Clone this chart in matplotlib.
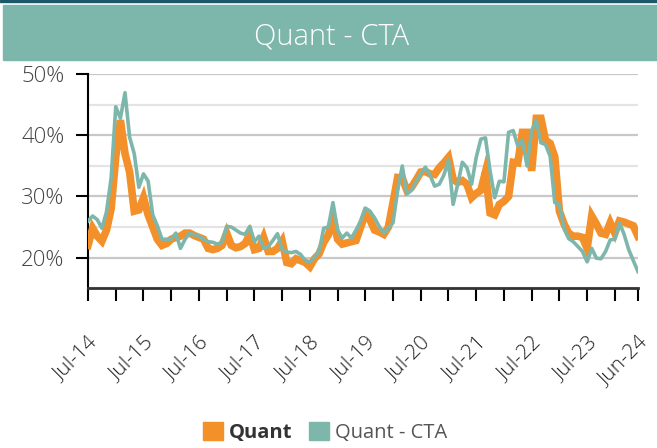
import matplotlib.pyplot as plt
from matplotlib.patches import Rectangle, Patch
import pandas as pd

# monthly volatility series, Jul-14 .. Jun-24
months = pd.date_range('2014-07-01', '2024-06-01', freq='MS')

quant = [22.0, 24.8, 23.5, 22.7, 24.5, 28.0, 36.5, 42.5, 37.0, 34.0,
         27.6, 27.8, 29.8, 27.0, 25.0, 23.0, 22.0, 22.3, 23.0, 23.3,
         23.5, 24.0, 24.0, 23.6, 23.3, 23.0, 21.5, 21.3, 21.5, 22.0,
         24.0, 22.0, 21.6, 21.8, 22.3, 23.8, 21.3, 21.5, 23.3, 21.0,
         21.0, 21.5, 22.7, 19.2, 19.0, 19.8, 19.5, 19.2, 18.5, 19.8,
         20.6, 22.5, 23.7, 26.5, 23.0, 22.2, 22.4, 22.6, 22.8, 25.0,
         27.1, 26.2, 24.5, 24.2, 23.8, 25.0, 29.0, 33.1, 33.0, 31.0,
         31.5, 32.7, 34.0, 34.1, 33.7, 33.6, 34.7, 35.5, 36.4, 32.8,
         32.3, 32.6, 32.0, 29.8, 30.5, 31.0, 34.0, 27.3, 27.0, 28.7,
         29.2, 30.0, 35.6, 35.5, 40.5, 40.5, 34.2, 42.8, 42.8, 39.2,
         38.7, 36.5, 27.6, 25.5, 24.0, 23.5, 23.5, 23.3, 21.5, 26.8,
         25.5, 24.0, 23.8, 25.7, 24.0, 26.0, 25.8, 25.5, 25.2, 23.5]

cta = [26.0, 26.8, 26.2, 24.8, 27.5, 33.0, 44.7, 42.8, 47.0, 39.7,
       37.0, 31.5, 33.7, 32.5, 27.0, 25.2, 23.0, 23.0, 23.0, 24.0,
       21.5, 23.0, 24.0, 23.7, 23.5, 23.0, 22.6, 22.5, 22.2, 22.5,
       25.1, 25.0, 24.5, 24.0, 23.8, 25.1, 22.6, 23.5, 21.5, 21.8,
       22.8, 23.9, 21.3, 20.9, 20.8, 21.0, 20.5, 19.5, 19.3, 20.0,
       21.0, 24.8, 25.0, 29.0, 24.5, 23.2, 24.0, 23.2, 24.5, 26.0,
       28.1, 27.6, 26.5, 25.1, 24.0, 24.8, 25.7, 31.0, 35.0, 30.4,
       31.0, 32.5, 33.7, 34.8, 33.5, 31.7, 32.0, 33.5, 36.0, 28.7,
       32.0, 35.6, 34.7, 32.0, 36.4, 39.4, 39.6, 34.2, 29.8, 32.5,
       32.4, 40.5, 40.8, 38.3, 39.2, 35.0, 40.8, 42.5, 38.8, 38.5,
       36.6, 29.0, 28.7, 24.8, 23.1, 22.6, 21.8, 21.0, 19.3, 21.5,
       19.9, 19.8, 21.0, 22.9, 23.0, 25.7, 23.8, 21.3, 19.5, 17.7]

tick_labels = ['Jul-14', 'Jul-15', 'Jul-16', 'Jul-17', 'Jul-18', 'Jul-19',
               'Jul-20', 'Jul-21', 'Jul-22', 'Jul-23', 'Jun-24']

orange = '#f3902a'
teal = '#7db6aa'

plt.rcParams['font.family'] = ['Open Sans', 'DejaVu Sans']

fig = plt.figure(figsize=(6.57, 4.48), dpi=100)
ax = fig.add_axes([0.134, 0.357, 0.837, 0.477])

# header band
fig.patches.append(Rectangle((0.0, 0.995), 1, 0.005, transform=fig.transFigure,
                             color='#1d5868', zorder=0))
fig.patches.append(Rectangle((0.005, 0.866), 0.995, 0.123, transform=fig.transFigure,
                             color=teal, zorder=0))
fig.text(0.505, 0.918, 'Quant - CTA', color='white', fontsize=21,
         fontweight='light', ha='center', va='center')

x = range(len(months))
ax.plot(x, quant, color=orange, lw=5.5, solid_joinstyle='miter', zorder=3)
ax.plot(x, cta, color=teal, lw=2.6, zorder=4)

ax.set_xlim(0, len(months) - 1)
ax.set_ylim(15, 50)

# gridlines: dark every 10%, light in between
for v in [20, 30, 40, 50]:
    ax.axhline(v, color='#c8c8c8', lw=1.6, zorder=1)
for v in [15, 25, 35, 45]:
    ax.axhline(v, color='#e4e4e4', lw=1.6, zorder=1)

ax.set_yticks([20, 30, 40, 50])
ax.set_yticklabels([f'{v}%' for v in [20, 30, 40, 50]], fontweight='light')
ax.tick_params(axis='y', length=9, width=1.5, color='black', labelsize=16,
               labelcolor='#444444', pad=8)

minor = list(range(0, len(months), 6)) + [len(months) - 1]
ax.set_xticks(minor, minor=True)
major = list(range(0, len(months) - 1, 12)) + [len(months) - 1]
ax.set_xticks(major)
ax.set_xticklabels(tick_labels, rotation=45, ha='right', rotation_mode='anchor',
                   fontweight='light')
ax.tick_params(axis='x', which='both', length=9, width=1.5, color='black',
               labelsize=15, labelcolor='#222222', pad=23)

for s in ['top', 'right']:
    ax.spines[s].set_visible(False)
ax.spines['left'].set_linewidth(1.5)
ax.spines['bottom'].set_linewidth(2)
ax.spines['bottom'].set_color('#333333')

handles = [Patch(color=orange), Patch(color=teal)]
leg = fig.legend(handles, ['Quant', 'Quant - CTA'], loc='center',
                 bbox_to_anchor=(0.495, 0.035), ncol=2, frameon=False,
                 fontsize=14.5, handlelength=1.0, handleheight=1.0,
                 handletextpad=0.3, columnspacing=0.8)
leg.get_texts()[0].set_fontweight('bold')
leg.get_texts()[0].set_color('#333333')
leg.get_texts()[1].set_color('#555555')

fig.savefig('out.png', dpi=100)
